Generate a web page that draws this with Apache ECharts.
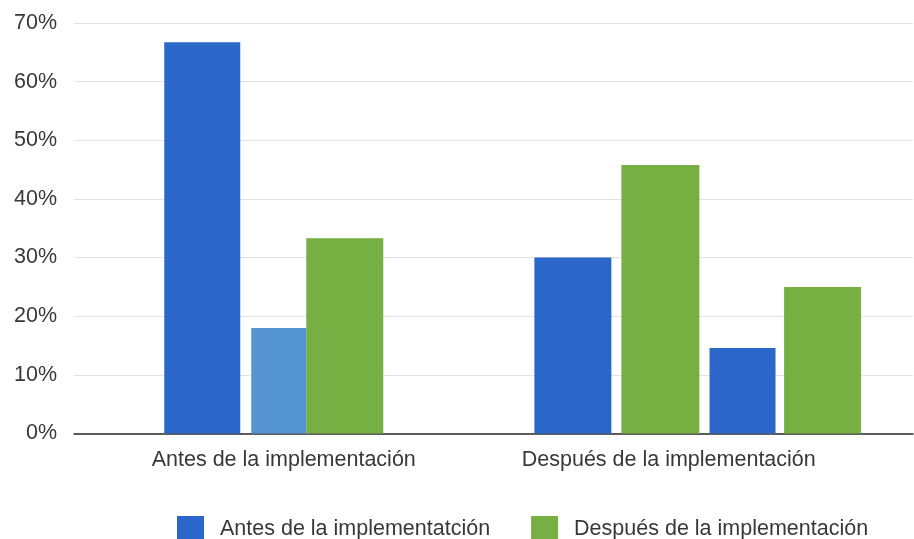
<!DOCTYPE html>
<html>
<head>
<meta charset="utf-8">
<script src="https://cdn.jsdelivr.net/npm/echarts@6/dist/echarts.min.js"></script>
<style>
  html, body { margin: 0; padding: 0; background: #ffffff; }
  #chart { width: 914px; height: 539px; }
</style>
</head>
<body>
<div id="chart"></div>
<script>
// ---- data ----
const categories = ['Antes de la implementación', 'Después de la implementación'];
const legendNames = ['Antes de la implementatción', 'Después de la implementación'];
const yTicks = [0, 10, 20, 30, 40, 50, 60, 70];

// group "Antes de la implementación"
const antesAzul = [66.7, null];
const antesAzulClaro = [18.0, null];
const antesVerde = [33.3, null];

// group "Después de la implementación"
const despuesAzul1 = [null, 30.0];
const despuesVerde1 = [null, 45.8];
const despuesAzul2 = [null, 14.6];
const despuesVerde2 = [null, 25.0];

// ---- styles ----
const BLUE = '#2a67c8';
const LIGHT_BLUE = '#5494d2';
const GREEN = '#76af42';
const TEXT = '#383838';
const FONT = '"Liberation Sans", Arial, Helvetica, sans-serif';
const empty = categories.map(() => null);

function bar(name, data, color, width, axis, gap) {
  return {
    type: 'bar', name: name, data: data, xAxisIndex: axis,
    barWidth: width, barGap: gap,
    itemStyle: { color: color },
    emphasis: { disabled: true }
  };
}
function spacer(width, axis, gap) {
  return { type: 'bar', name: '_spacer', data: empty, xAxisIndex: axis,
           barWidth: width, barGap: gap, silent: true, itemStyle: { color: 'rgba(0,0,0,0)' } };
}

const chart = echarts.init(document.getElementById('chart'), null, { renderer: 'canvas' });
chart.setOption({
  animation: false,
  backgroundColor: '#ffffff',
  textStyle: { fontFamily: FONT },
  grid: { left: 74, right: 1, top: 23, bottom: 105.5, containLabel: false },
  legend: {
    data: legendNames,
    left: 177, top: 516, padding: 0,
    itemWidth: 27, itemHeight: 27, itemGap: 41,
    icon: 'rect',
    textStyle: { fontFamily: FONT, fontSize: 21.5, color: TEXT, padding: [0, 0, 0, 11] }
  },
  xAxis: [
    {
      type: 'category', position: 'bottom',
      data: [
        { value: categories[0] },
        { value: categories[1], textStyle: { padding: [0, 69, 0, 0] } }
      ],
      axisLine: { show: true, lineStyle: { color: '#2b2b2b', width: 1.5 } },
      axisTick: { show: false },
      axisLabel: { fontFamily: FONT, fontSize: 21.5, color: TEXT, margin: 16, interval: 0 },
      splitLine: { show: false }
    },
    {
      type: 'category', position: 'bottom', show: false,
      data: categories
    }
  ],
  yAxis: {
    type: 'value',
    min: yTicks[0], max: yTicks[yTicks.length - 1], interval: yTicks[1] - yTicks[0],
    axisLine: { show: false },
    axisTick: { show: false },
    axisLabel: { formatter: '{value}%', fontFamily: FONT, fontSize: 21.5, color: TEXT, margin: 17 },
    splitLine: { show: true, lineStyle: { color: '#e2e2e2', width: 1.2 } }
  },
  series: [
    // group 1 (hidden axis 1), no gaps between slots; spacers set the spacing
    bar(legendNames[0], antesAzul, BLUE, 76, 1, '0%'),
    spacer(11, 1, '0%'),
    bar('Antes (otra)', antesAzulClaro, LIGHT_BLUE, 55, 1, '0%'),
    bar(legendNames[1], antesVerde, GREEN, 77, 1, '0%'),
    spacer(20, 1, '0%'),
    // group 2 (axis 0)
    bar(legendNames[0], despuesAzul1, BLUE, 77, 0, '13%'),
    bar(legendNames[1], despuesVerde1, GREEN, 78, 0, '13%'),
    bar(legendNames[0], despuesAzul2, BLUE, 66, 0, '13%'),
    bar(legendNames[1], despuesVerde2, GREEN, 77, 0, '13%'),
    spacer(0.01, 0, '13%')
  ]
});
</script>
</body>
</html>
